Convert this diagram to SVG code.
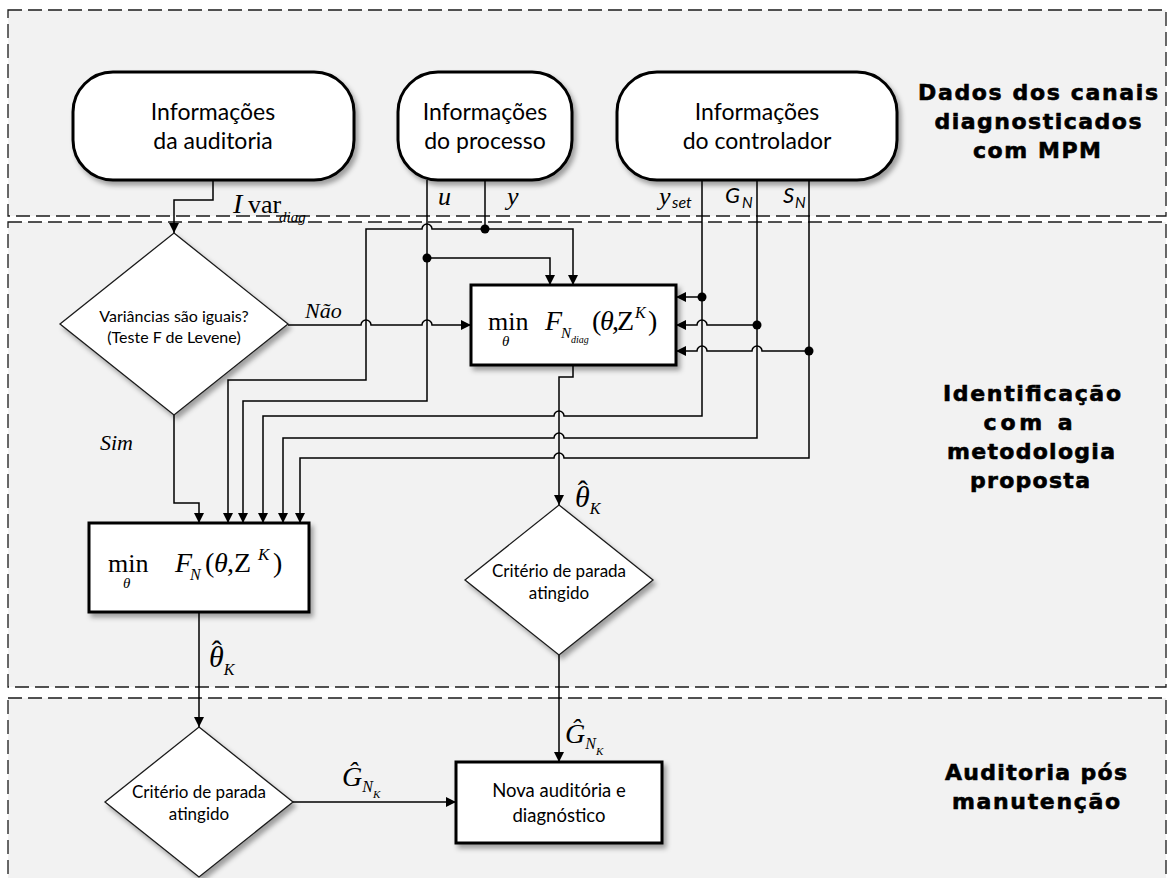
<svg xmlns="http://www.w3.org/2000/svg" width="1169" height="878" viewBox="0 0 1169 878">
  <defs>
    <filter id="shadow" x="-10%" y="-10%" width="130%" height="140%">
      <feDropShadow dx="3" dy="4" stdDeviation="2.5" flood-color="#000" flood-opacity="0.35"/>
    </filter>
    <marker id="arrow" viewBox="0 0 10 10" refX="10" refY="5" markerWidth="10" markerHeight="10" markerUnits="userSpaceOnUse" orient="auto">
      <path d="M0,0 L10,5 L0,10 Z" fill="#000"/>
    </marker>
  </defs>
  <style>
    .panel { fill: #f2f2f2; stroke: #1a1a1a; stroke-width: 1.3; stroke-dasharray: 14 6; }
    .term { fill: #fff; stroke: #000; stroke-width: 3; filter: url(#shadow); }
    .proc { fill: #fff; stroke: #000; stroke-width: 3; filter: url(#shadow); }
    .dec { fill: #fff; stroke: #1a1a1a; stroke-width: 1.3; filter: url(#shadow); }
    .wire { fill: none; stroke: #000; stroke-width: 1.5; }
    .arr { marker-end: url(#arrow); }
    .dot { fill: #000; }
    .lbl { font-family: Lato, "Open Sans", sans-serif; fill: #000; text-anchor: middle; }
    .math { font-family: "Liberation Serif", "Times New Roman", serif; fill: #000; }
    .it { font-style: italic; }
    .up { font-style: normal; }
    .sans-it { font-family: Lato, "Open Sans", sans-serif; font-style: italic; fill: #000; }
    .lane { font-family: "DejaVu Sans", sans-serif; font-weight: bold; font-size: 22px; text-anchor: middle; fill: #000; stroke: #000; stroke-width: 0.6; }
  </style>

  <rect width="1169" height="878" fill="#fff"/>

  <!-- swimlane panels -->
  <g id="lanes">
    <rect class="panel" x="8" y="10" width="1158" height="206"/>
    <rect class="panel" x="8" y="222" width="1158" height="465"/>
    <rect class="panel" x="8" y="698" width="1158" height="220"/>
    <text class="lane" x="1038" y="100" textLength="240" lengthAdjust="spacing">Dados dos canais</text>
    <text class="lane" x="1038" y="129" textLength="207" lengthAdjust="spacing">diagnosticados</text>
    <text class="lane" x="1037" y="158" textLength="128" lengthAdjust="spacing">com MPM</text>
    <text class="lane" x="1032" y="401" textLength="178" lengthAdjust="spacing">Identificação</text>
    <text class="lane" x="1028" y="430" textLength="89" lengthAdjust="spacing">com a</text>
    <text class="lane" x="1031" y="459" textLength="168" lengthAdjust="spacing">metodologia</text>
    <text class="lane" x="1030" y="488" textLength="120" lengthAdjust="spacing">proposta</text>
    <text class="lane" x="1036" y="780" textLength="182" lengthAdjust="spacing">Auditoria pós</text>
    <text class="lane" x="1036" y="809" textLength="168" lengthAdjust="spacing">manutenção</text>
  </g>

  <!-- connectors -->
  <g id="connectors">
    <path class="wire arr" d="M213,180 V200 H174 V233"/>
    <path class="wire arr" d="M288,325 H361 A5,5 0 0 1 371,325 H422 A5,5 0 0 1 432,325 H471"/>
    <path class="wire arr" d="M174,415 V503 H199 V523"/>
    <!-- process output y -->
    <path class="wire" d="M485,180 V229"/>
    <path class="wire arr" d="M485,229 H432 A5,5 0 0 0 422,229 H366 V380 H228 V523"/>
    <path class="wire arr" d="M485,229 H573 V285"/>
    <!-- process input u -->
    <path class="wire arr" d="M427,180 V401 H243 V523"/>
    <path class="wire arr" d="M427,258 H550 V285"/>
    <!-- controller outputs -->
    <path class="wire arr" d="M702,180 V416 H564 A5,5 0 0 0 554,416 H263 V523"/>
    <path class="wire arr" d="M757,180 V438 H564 A5,5 0 0 0 554,438 H283 V523"/>
    <path class="wire arr" d="M809,180 V458 H564 A5,5 0 0 0 554,458 H300 V523"/>
    <path class="wire arr" d="M702,297 H676"/>
    <path class="wire arr" d="M757,325 H707 A5,5 0 0 0 697,325 H676"/>
    <path class="wire arr" d="M809,351 H762 A5,5 0 0 0 752,351 H707 A5,5 0 0 0 697,351 H676"/>
    <!-- estimates -->
    <path class="wire arr" d="M573,365 V377 H559 V505"/>
    <path class="wire arr" d="M559,655 V762"/>
    <path class="wire arr" d="M199,612 V727"/>
    <path class="wire arr" d="M293,802 H456"/>
    <!-- junctions -->
    <circle class="dot" cx="485" cy="229" r="4.5"/>
    <circle class="dot" cx="427" cy="258" r="4.5"/>
    <circle class="dot" cx="702" cy="297" r="4.5"/>
    <circle class="dot" cx="757" cy="325" r="4.5"/>
    <circle class="dot" cx="809" cy="351" r="4.5"/>
  </g>

  <!-- signal labels -->
  <g id="signal-labels">
    <text class="math" y="213"><tspan class="it" x="233" font-size="28">I</tspan><tspan x="248" font-size="26">var</tspan><tspan class="it" x="279" y="222" font-size="15">diag</tspan></text>
    <text class="math it" x="438" y="205" font-size="26">u</text>
    <text class="math it" x="507" y="205" font-size="26">y</text>
    <text class="math it" x="659" y="205" font-size="26">y</text>
    <text class="sans-it" x="672" y="208" font-size="16">set</text>
    <text class="sans-it" x="725" y="203" font-size="22">G</text>
    <text class="sans-it" x="742" y="208" font-size="15">N</text>
    <text class="sans-it" x="783" y="203" font-size="22">S</text>
    <text class="sans-it" x="795" y="208" font-size="15">N</text>
    <text class="math it" x="305" y="318" font-size="22">Não</text>
    <text class="math it" x="100" y="450" font-size="22">Sim</text>
    <!-- estimate labels: theta with a hat, subscript K -->
    <text class="math it" x="575" y="507" font-size="30">θ<tspan class="up" dx="-12" dy="-6">ˆ</tspan><tspan font-size="16" dx="2" dy="13">K</tspan></text>
    <text class="math it" x="209" y="667" font-size="30">θ<tspan class="up" dx="-12" dy="-6">ˆ</tspan><tspan font-size="16" dx="2" dy="14">K</tspan></text>
    <text class="math it" x="565" y="743" font-size="28">Ĝ<tspan font-size="16" dy="6">N</tspan><tspan font-size="11" dy="6">K</tspan></text>
    <text class="math it" x="342" y="786" font-size="28">Ĝ<tspan font-size="16" dy="6">N</tspan><tspan font-size="11" dy="6">K</tspan></text>
  </g>

  <g id="audit-info">
    <rect class="term" x="73" y="72" width="281" height="108" rx="40" ry="40"/>
    <text class="lbl" x="213" y="120" font-size="23">Informações</text>
    <text class="lbl" x="213" y="149" font-size="23">da auditoria</text>
  </g>

  <g id="process-info">
    <rect class="term" x="398" y="72" width="174" height="108" rx="40" ry="40"/>
    <text class="lbl" x="485" y="120" font-size="23">Informações</text>
    <text class="lbl" x="485" y="149" font-size="23">do processo</text>
  </g>

  <g id="controller-info">
    <rect class="term" x="617" y="72" width="280" height="108" rx="40" ry="40"/>
    <text class="lbl" x="757" y="120" font-size="23">Informações</text>
    <text class="lbl" x="757" y="149" font-size="23">do controlador</text>
  </g>

  <g id="variance-test">
    <polygon class="dec" points="174,233 288,324 174,415 60,324"/>
    <text class="lbl" x="174" y="322" font-size="16">Variâncias são iguais?</text>
    <text class="lbl" x="174" y="343" font-size="16">(Teste F de Levene)</text>
  </g>

  <g id="diag-estimator">
    <rect class="proc" x="471" y="285" width="205" height="80"/>
    <text class="math" x="488" y="330" font-size="26">min<tspan class="it" x="502" y="346" font-size="15">θ</tspan></text>
    <text class="math it" x="545" y="330" font-size="28">F<tspan font-size="15" x="561" y="338">N</tspan><tspan font-size="10" x="571" y="343">diag</tspan></text>
    <text class="math" y="330" font-size="28"><tspan x="592">(</tspan><tspan class="it" x="600">θ</tspan><tspan x="612">,</tspan><tspan x="617">Z</tspan><tspan class="it" x="635" y="318" font-size="16">K</tspan><tspan x="648" y="330">)</tspan></text>
  </g>

  <g id="full-estimator">
    <rect class="proc" x="89" y="523" width="220" height="89"/>
    <text class="math" x="108" y="572" font-size="26">min<tspan class="it" x="123" y="588" font-size="15">θ</tspan></text>
    <text class="math it" x="175" y="572" font-size="28">F<tspan font-size="16" x="190" y="580">N</tspan></text>
    <text class="math" y="572" font-size="28"><tspan x="205">(</tspan><tspan class="it" x="214">θ</tspan><tspan x="227">,</tspan><tspan x="234">Z</tspan><tspan class="it" x="258" y="560" font-size="17">K</tspan><tspan x="273" y="572">)</tspan></text>
  </g>

  <g id="stop-check-diag">
    <polygon class="dec" points="559,505 653,580 559,655 465,580"/>
    <text class="lbl" x="559" y="577" font-size="17">Critério de parada</text>
    <text class="lbl" x="559" y="599" font-size="17">atingido</text>
  </g>

  <g id="stop-check-full">
    <polygon class="dec" points="199,727 293,802 199,877 105,802"/>
    <text class="lbl" x="199" y="798" font-size="17">Critério de parada</text>
    <text class="lbl" x="199" y="820" font-size="17">atingido</text>
  </g>

  <g id="new-audit">
    <rect class="proc" x="456" y="762" width="206" height="81"/>
    <text class="lbl" x="559" y="797" font-size="18.5">Nova auditória e</text>
    <text class="lbl" x="559" y="822" font-size="18.5">diagnóstico</text>
  </g>
</svg>
